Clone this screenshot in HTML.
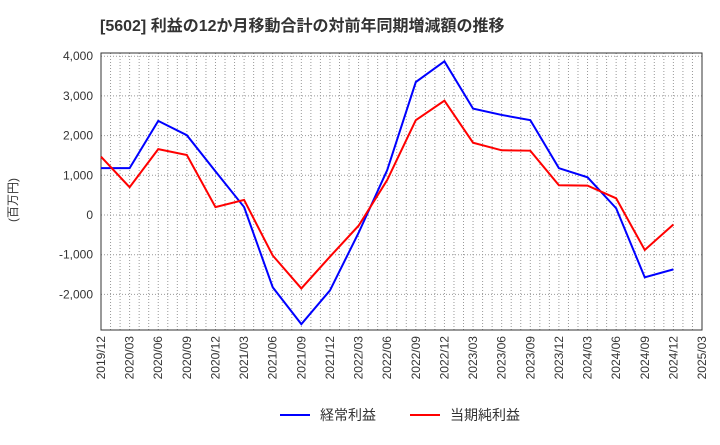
<!DOCTYPE html>
<html><head><meta charset="utf-8"><style>
body{margin:0;background:#fff;width:720px;height:440px;overflow:hidden}
svg text{font-family:"Liberation Sans","Noto Sans CJK JP",sans-serif;fill:#333}
</style></head><body>
<svg id="c" width="720" height="440">
<text x="100" y="31" font-size="16" font-weight="bold">[5602]  利益の12か月移動合計の対前年同期増減額の推移</text>
<text transform="translate(17,200) rotate(-90)" font-size="12" text-anchor="middle">(百万円)</text>
<g id="grid"></g><g id="axes"></g><g id="series"></g>
<g>
<line x1="280" y1="415" x2="310" y2="415" stroke="#0000ff" stroke-width="2"/>
<text x="320" y="420" font-size="14">経常利益</text>
<line x1="410" y1="415" x2="440" y2="415" stroke="#ff0000" stroke-width="2"/>
<text x="450" y="420" font-size="14">当期純利益</text>
</g>
</svg>
<script>
const categories=["2019/12","2020/03","2020/06","2020/09","2020/12","2021/03","2021/06","2021/09","2021/12","2022/03","2022/06","2022/09","2022/12","2023/03","2023/06","2023/09","2023/12","2024/03","2024/06","2024/09","2024/12","2025/03"];
const keijo=[1180,1180,2370,2010,1100,200,-1820,-2750,-1900,-450,1130,3350,3870,2680,2520,2390,1180,950,170,-1570,-1370];
const junri=[1470,700,1660,1510,200,380,-1020,-1850,-1050,-270,880,2390,2880,1820,1630,1620,750,740,420,-880,-240];
const yTicks=[4000,3000,2000,1000,0,-1000,-2000];
const L=101,R=702,T=53,B=330,NS="http://www.w3.org/2000/svg";
const x=i=>L+(R-L)*i/(categories.length-1);
const y=v=>215-v*0.0397;
function mk(t,a,p){const e=document.createElementNS(NS,t);for(const k in a)e.setAttribute(k,a[k]);p.appendChild(e);return e;}
const g=document.getElementById('grid'),ax=document.getElementById('axes'),s=document.getElementById('series');
for(let m=1;m<(categories.length-1)*3;m++){const xx=L+(R-L)*m/((categories.length-1)*3);
const ln=mk('line',{x1:xx,x2:xx,y1:T,y2:B,stroke:'#999','stroke-dasharray':'1,2','stroke-width':1},g);

}
yTicks.forEach(v=>{const ln=mk('line',{x1:L,x2:R,y1:y(v),y2:y(v),stroke:'#999','stroke-dasharray':'1,2'},g);


const t=mk('text',{x:L-8,y:y(v)+4,'font-size':12,'text-anchor':'end'},ax);t.textContent=v.toLocaleString('en-US');

});
const fr=mk('rect',{x:L,y:T,width:R-L,height:B-T,fill:'none',stroke:'#333'},ax);


categories.forEach((c,i)=>{const t=mk('text',{'font-size':12,'text-anchor':'end',transform:`translate(${x(i)+4},${B+6}) rotate(-90)`},ax);t.textContent=c;

});
[[keijo,'#0000ff','line-keijo'],[junri,'#ff0000','line-junri']].forEach(([d,col,n])=>{
const p=mk('polyline',{points:d.map((v,i)=>x(i)+','+y(v)).join(' '),fill:'none',stroke:col,'stroke-width':2},s);

});
</script>
</body></html>
